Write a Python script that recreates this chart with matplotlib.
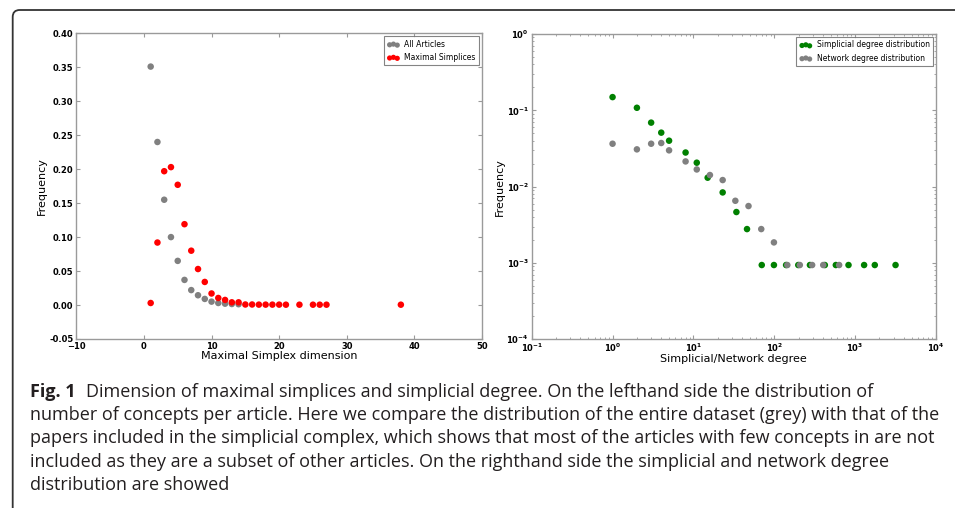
import numpy as np
import matplotlib
matplotlib.use('Agg')
import matplotlib.pyplot as plt
from matplotlib.patches import FancyBboxPatch

# left panel: maximal simplex dimension
dim_all = [1, 2, 3, 4, 5, 6, 7, 8, 9, 10, 11, 12, 13, 14]
freq_all = [0.351, 0.240, 0.155, 0.100, 0.065, 0.037, 0.022, 0.0144, 0.009,
            0.005, 0.003, 0.002, 0.0015, 0.0012]
dim_max = [1, 2, 3, 4, 5, 6, 7, 8, 9, 10, 11, 12, 13, 14, 15, 16, 17, 18,
           19, 20, 21, 23, 25, 26, 27, 38]
freq_max = [0.003, 0.092, 0.197, 0.203, 0.177, 0.119, 0.080, 0.053, 0.034,
            0.017, 0.0104, 0.0075, 0.004, 0.004, 0.0008, 0.0008, 0.0006,
            0.0006, 0.0006, 0.0006, 0.0005, 0.0005, 0.0005, 0.0005, 0.0005,
            0.0005]

# right panel: degree distributions
deg_simp = [1, 2, 3, 4, 5, 8, 11, 15, 23, 34, 46, 70, 99, 140, 198, 276,
            422, 577, 828, 1291, 1750, 3160]
freq_simp = [0.149, 0.108, 0.069, 0.051, 0.040, 0.028, 0.0206, 0.0131,
             0.0084, 0.00465, 0.00278, 0.00094, 0.00094, 0.00094, 0.00094,
             0.00094, 0.00094, 0.00094, 0.00094, 0.00094, 0.00094, 0.00094]
deg_net = [1, 2, 3, 4, 5, 8, 11, 16, 23, 33, 48, 69, 99, 145, 207, 294,
           403, 634]
freq_net = [0.0365, 0.0308, 0.0365, 0.0373, 0.0299, 0.0214, 0.0168, 0.0142,
            0.0122, 0.00653, 0.00557, 0.00278, 0.00186, 0.00094, 0.00094,
            0.00094, 0.00094, 0.00094]

caption = [
    "Dimension of maximal simplices and simplicial degree. On the lefthand side the distribution of",
    "number of concepts per article. Here we compare the distribution of the entire dataset (grey) with that of the",
    "papers included in the simplicial complex, which shows that most of the articles with few concepts in are not",
    "included as they are a subset of other articles. On the righthand side the simplicial and network degree",
    "distribution are showed",
]

W, H = 955, 508
fig = plt.figure(figsize=(W / 100, H / 100), dpi=100)

spine_col = '#9a9a9a'
ms = 22


def style(ax):
    for s in ax.spines.values():
        s.set_color(spine_col)
        s.set_linewidth(1.0)
    ax.tick_params(which='both', direction='in', top=True, right=True,
                   color=spine_col, labelsize=6, pad=2)
    for lab in ax.get_xticklabels() + ax.get_yticklabels():
        lab.set_fontweight('bold')


def legend(ax):
    leg = ax.legend(loc='upper right', scatterpoints=3, fontsize=5.5, fancybox=False,
                    borderaxespad=0.4, handletextpad=0.6, borderpad=0.45,
                    labelspacing=0.55, handlelength=1.6, markerscale=0.8)
    leg.get_frame().set_edgecolor('#666666')
    leg.get_frame().set_linewidth(0.8)


ax1 = fig.add_axes([76.3 / W, 1 - 339 / H, (482 - 76.3) / W, (339 - 33.3) / H])
ax1.scatter(dim_all, freq_all, s=ms, color='grey', edgecolors='none', label='All Articles')
ax1.scatter(dim_max, freq_max, s=ms, color='red', edgecolors='none', label='Maximal Simplices')
ax1.set_xlim(-10, 50)
ax1.set_ylim(-0.05, 0.40)
ax1.set_xticks(np.arange(-10, 51, 10))
ax1.set_yticks(np.arange(-0.05, 0.401, 0.05))
ax1.yaxis.set_major_formatter(matplotlib.ticker.FormatStrFormatter('%.2f'))
ax1.set_xlabel('Maximal Simplex dimension', fontsize=8, va='center')
ax1.set_ylabel('Frequency', fontsize=8, va='center')
ax1.xaxis.set_label_coords(0.5, -0.056)
ax1.yaxis.set_label_coords(-0.085, 0.5)
ax1.tick_params(length=3)
style(ax1)
legend(ax1)

ax2 = fig.add_axes([531.7 / W, 1 - 339.3 / H, (936 - 531.7) / W, (339.3 - 34) / H])
ax2.scatter(deg_simp, freq_simp, s=ms, color='green', edgecolors='none',
            label='Simplicial degree distribution')
ax2.scatter(deg_net, freq_net, s=ms, color='grey', edgecolors='none',
            label='Network degree distribution')
ax2.set_xscale('log')
ax2.set_yscale('log')
ax2.set_xlim(1e-1, 1e4)
ax2.set_ylim(1e-4, 1)
ax2.set_xlabel('Simplicial/Network degree', fontsize=8, va='center')
ax2.set_ylabel('Frequency', fontsize=8, va='center')
ax2.xaxis.set_label_coords(0.5, -0.063)
ax2.yaxis.set_label_coords(-0.078, 0.5)
ax2.tick_params(which='major', length=3)
ax2.tick_params(which='minor', length=1.5)
style(ax2)
legend(ax2)

# frame around the figure
frame = FancyBboxPatch((12.7, -60), 1100, H - 10 + 60,
                       boxstyle='round,pad=0,rounding_size=7',
                       transform=None, fill=False, edgecolor='#333333', linewidth=1.3)
fig.add_artist(frame)

# caption
cap_font = ['Open Sans', 'DejaVu Sans']
cap_size = 13
x0 = 30 / W
baselines = [396.7, 420, 443.3, 466.6, 490]
fig.canvas.draw()
r = fig.canvas.get_renderer()
t = fig.text(x0, 1 - baselines[0] / H, 'Fig. 1', fontsize=cap_size, family=cap_font,
             fontweight='bold', va='baseline', color='#231f20')
bw = t.get_window_extent(renderer=r).width
fig.text(x0 + (bw + 10) / W, 1 - baselines[0] / H, caption[0], fontsize=cap_size,
         family=cap_font, va='baseline', color='#231f20')
for line, b in zip(caption[1:], baselines[1:]):
    fig.text(x0, 1 - b / H, line, fontsize=cap_size, family=cap_font,
             va='baseline', color='#231f20')

fig.savefig('out.png', dpi=100)
